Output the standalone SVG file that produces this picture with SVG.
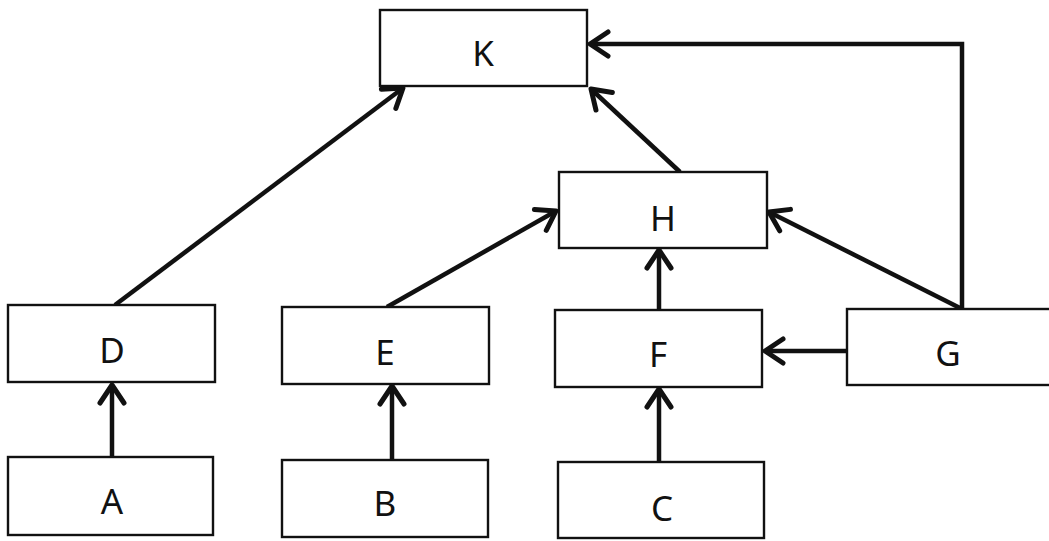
<svg xmlns="http://www.w3.org/2000/svg" width="1049" height="541" viewBox="0 0 1049 541">
<defs>
<style>
.box{fill:#fff;stroke:#111;stroke-width:2.4}
.lbl{font-family:"Noto Sans","Open Sans",sans-serif;font-size:35px;fill:#111;text-anchor:middle}
.con{fill:none;stroke:#111;stroke-width:4.5;stroke-linejoin:miter}
</style>
<marker id="arr" markerUnits="userSpaceOnUse" markerWidth="40" markerHeight="40" refX="0" refY="0" viewBox="-25 -20 30 40" orient="auto">
<path d="M -18 -12 L 0 0 L -18 12" fill="none" stroke="#111" stroke-width="5" stroke-linecap="round" stroke-linejoin="round"/>
</marker>
</defs>
<rect width="1049" height="541" fill="#fff"/>
<g id="connectors">
<line class="con" x1="112" y1="457" x2="112" y2="385" marker-end="url(#arr)"/>
<line class="con" x1="392" y1="460" x2="392" y2="386" marker-end="url(#arr)"/>
<line class="con" x1="659" y1="462" x2="659" y2="389" marker-end="url(#arr)"/>
<line class="con" x1="659" y1="310" x2="659" y2="250" marker-end="url(#arr)"/>
<line class="con" x1="847" y1="351" x2="765" y2="351" marker-end="url(#arr)"/>
<line class="con" x1="115" y1="305" x2="403" y2="88" marker-end="url(#arr)"/>
<line class="con" x1="387" y1="307" x2="556" y2="211" marker-end="url(#arr)"/>
<line class="con" x1="680" y1="172" x2="591" y2="89" marker-end="url(#arr)"/>
<line class="con" x1="962" y1="309" x2="769" y2="212" marker-end="url(#arr)"/>
<polyline class="con" points="962,309 962,44 590,44" marker-end="url(#arr)"/>
</g>
<g id="K"><rect class="box" x="380" y="10" width="207" height="76"/><text class="lbl" x="483" y="66">K</text></g>
<g id="H"><rect class="box" x="559" y="172" width="208" height="76"/><text class="lbl" x="663" y="231">H</text></g>
<g id="D"><rect class="box" x="8" y="305" width="207" height="77"/><text class="lbl" x="112" y="363">D</text></g>
<g id="E"><rect class="box" x="282" y="307" width="207" height="77"/><text class="lbl" x="385" y="365">E</text></g>
<g id="F"><rect class="box" x="555" y="310" width="207" height="77"/><text class="lbl" x="658" y="367">F</text></g>
<g id="G"><rect class="box" x="847" y="309" width="206" height="76"/><text class="lbl" x="948" y="366">G</text></g>
<g id="A"><rect class="box" x="8" y="457" width="205" height="78"/><text class="lbl" x="112" y="514">A</text></g>
<g id="B"><rect class="box" x="282" y="460" width="206" height="77"/><text class="lbl" x="385" y="516">B</text></g>
<g id="C"><rect class="box" x="558" y="462" width="206" height="76"/><text class="lbl" x="662" y="521">C</text></g>
</svg>
